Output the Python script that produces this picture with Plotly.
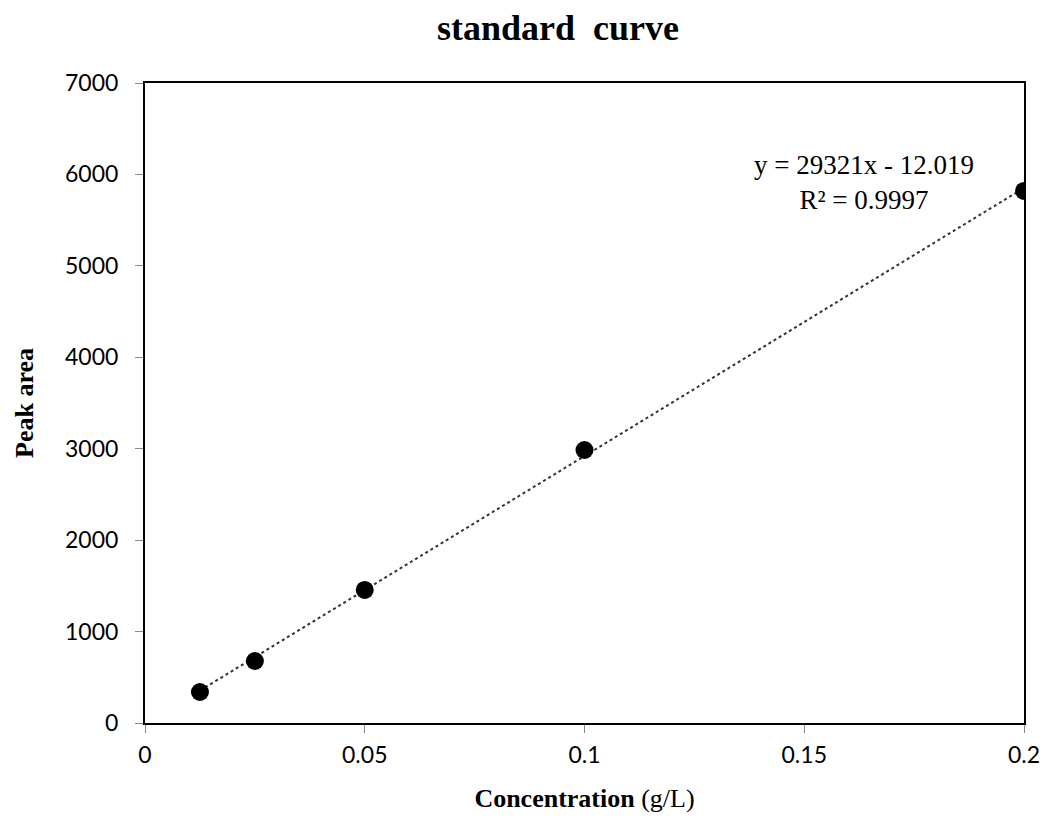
import plotly.graph_objects as go

conc = [0.0125, 0.025, 0.05, 0.1, 0.2]
peak_area = [339, 678, 1455, 2986, 5819]
slope = 29321
intercept = -12.019
r2 = 0.9997
x_ticks = [0, 0.05, 0.1, 0.15, 0.2]
x_tick_labels = ["0", "0.05", "0.1", "0.15", "0.2"]
y_ticks = [0, 1000, 2000, 3000, 4000, 5000, 6000, 7000]

trend_x = [conc[0], conc[-1]]
trend_y = [slope * v + intercept for v in trend_x]

fig = go.Figure()
fig.add_trace(go.Scatter(
    x=trend_x, y=trend_y, mode="lines",
    line=dict(color="#333333", width=2, dash="dot"),
    showlegend=False, hoverinfo="skip",
))
fig.add_trace(go.Scatter(
    x=conc, y=peak_area, mode="markers",
    marker=dict(color="black", size=18),
    showlegend=False,
))

fig.add_annotation(
    x=0.1635, y=5910, xref="x", yref="y",
    text=f"y = {slope}x - {abs(intercept)}<br>R² = {r2}",
    showarrow=False, align="center",
    font=dict(family="Liberation Serif", size=27, color="black"),
)

axis_common = dict(
    showgrid=False, zeroline=False, showline=True, linecolor="black", linewidth=2,
    mirror=True, ticks="outside", ticklen=8, tickcolor="#888888", tickwidth=1,
    tickfont=dict(family="Lato", size=23, color="black"), automargin=False,
)

fig.update_layout(
    width=1047, height=819,
    paper_bgcolor="white", plot_bgcolor="white",
    margin=dict(l=145, r=23, t=83, b=96),
    title=dict(
        text="<b>standard  curve</b>", x=0.533, xanchor="center", y=0.966, yanchor="middle",
        font=dict(family="Liberation Serif", size=36, color="black"),
    ),
    xaxis=dict(
        range=[0, 0.2], tickvals=x_ticks, ticktext=x_tick_labels,
        ticklabelstandoff=2,
        title=dict(text="<b>Concentration</b> (g/L)", standoff=22,
                   font=dict(family="Liberation Serif", size=26, color="black")),
        **axis_common,
    ),
    yaxis=dict(
        range=[0, 7000], tickvals=y_ticks,
        ticklabelstandoff=12,
        title=dict(text="<b>Peak area</b>", standoff=24,
                   font=dict(family="Liberation Serif", size=26, color="black")),
        **axis_common,
    ),
)

fig.write_html("out.html")
